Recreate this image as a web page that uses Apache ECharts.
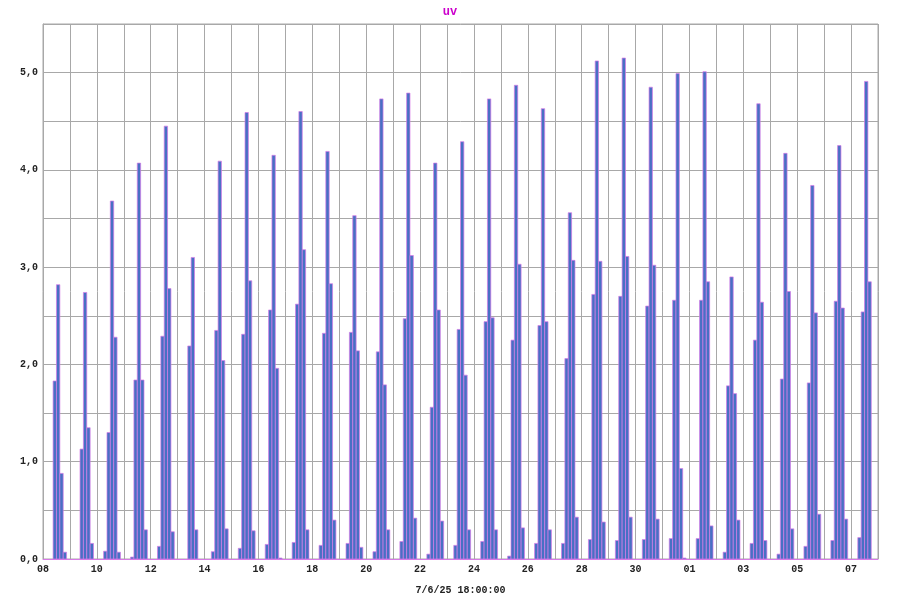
<!DOCTYPE html>
<html>
<head>
<meta charset="utf-8">
<script src="https://cdn.jsdelivr.net/npm/echarts@6/dist/echarts.min.js"></script>
<style>html,body{margin:0;padding:0;background:#fff}#c{width:900px;height:600px}</style>
</head>
<body>
<div id="c"></div>
<script>
// Day labels (Jul 8 .. Aug 7)
const dayLabels = ['08','09','10','11','12','13','14','15','16','17','18','19','20','21','22','23','24','25','26','27','28','29','30','31','01','02','03','04','05','06','07'];
// Start hour of each 3-hour bin
const slotHours = [6, 9, 12, 15, 18];
const binHours = 3;
// UV per bin, one array per bin start hour
const uv06 = [0,0,0.08,0.02,0.13,0,0.075,0.11,0.15,0.17,0.14,0.16,0.075,0.18,0.05,0.14,0.18,0.03,0.16,0.16,0.20,0.19,0.20,0.21,0.21,0.07,0.16,0.05,0.13,0.19,0.22];
const uv09 = [1.83,1.13,1.30,1.84,2.29,2.19,2.35,2.31,2.56,2.62,2.32,2.33,2.13,2.47,1.56,2.36,2.44,2.25,2.40,2.06,2.72,2.70,2.60,2.66,2.66,1.78,2.25,1.85,1.81,2.65,2.54];
const uv12 = [2.82,2.74,3.68,4.07,4.45,3.10,4.09,4.59,4.15,4.60,4.19,3.53,4.73,4.79,4.07,4.29,4.73,4.87,4.63,3.56,5.12,5.15,4.85,4.99,5.01,2.90,4.68,4.17,3.84,4.25,4.91];
const uv15 = [0.88,1.35,2.28,1.84,2.78,0.30,2.04,2.86,1.96,3.18,2.83,2.14,1.79,3.12,2.56,1.89,2.48,3.03,2.44,3.07,3.06,3.11,3.02,0.93,2.85,1.70,2.64,2.75,2.53,2.58,2.85];
const uv18 = [0.07,0.16,0.07,0.30,0.28,0,0.31,0.29,0.01,0.30,0.40,0.12,0.30,0.42,0.39,0.30,0.30,0.32,0.30,0.43,0.38,0.43,0.41,0.01,0.34,0.40,0.19,0.31,0.46,0.41,null];
const xAxisName = '7/6/25 18:00:00';
const title = 'uv';

const slots = [uv06, uv09, uv12, uv15, uv18];
const data = [];
for (let d = 0; d < dayLabels.length; d++) {
  slots.forEach((arr, i) => {
    const v = arr[d];
    if (v !== null && v !== undefined && v > 0) {
      const start = d * 24 + slotHours[i];
      data.push([start, start + binHours, v]);
    }
  });
}

const font = '"Liberation Mono", "DejaVu Sans Mono", monospace';
const chart = echarts.init(document.getElementById('c'), null, {renderer: 'canvas'});
chart.setOption({
  animation: false,
  backgroundColor: '#fff',
  title: {
    text: title, left: 'center', top: 1,
    textStyle: {color: '#cc00cc', fontFamily: font, fontWeight: 'bold', fontSize: 12}
  },
  grid: {left: 43, right: 22, top: 24, bottom: 33, show: true, borderColor: '#a8a8a8', borderWidth: 1},
  xAxis: {
    type: 'value', min: 0, max: dayLabels.length * 24, interval: 24,
    name: xAxisName, nameLocation: 'middle', nameGap: 26,
    nameTextStyle: {fontFamily: font, fontSize: 10, color: '#222', fontWeight: 'bold'},
    axisLine: {show: true, lineStyle: {color: '#d77ae6', width: 1}},
    axisTick: {show: false},
    axisLabel: {
      margin: 5, fontFamily: font, fontSize: 10, fontWeight: 'bold', color: '#222',
      showMaxLabel: false,
      formatter: v => { const d = Math.round(v / 24); return (d % 2 === 0 && d < dayLabels.length) ? dayLabels[d] : ''; }
    },
    splitLine: {show: true, lineStyle: {color: '#a8a8a8', width: 1}}
  },
  yAxis: {
    type: 'value', min: 0, max: 5.5, interval: 0.5,
    axisLine: {show: true, lineStyle: {color: '#a8a8a8'}},
    axisTick: {show: false},
    axisLabel: {
      margin: 5, fontFamily: font, fontSize: 10, fontWeight: 'bold', color: '#222',
      formatter: v => (Math.abs(v - Math.round(v)) < 1e-6) ? v.toFixed(1).replace('.', ',') : ''
    },
    splitLine: {show: true, lineStyle: {color: '#a8a8a8', width: 1}}
  },
  series: [{
    type: 'custom',
    data: data,
    encode: {x: [0, 1], y: 2},
    renderItem: function (params, api) {
      const p0 = api.coord([api.value(0), api.value(2)]);
      const p1 = api.coord([api.value(1), 0]);
      return {
        type: 'rect',
        shape: {x: p0[0], y: p0[1], width: p1[0] - p0[0], height: p1[1] - p0[1]},
        style: {fill: '#4870c4', stroke: '#d77ae6', lineWidth: 0.7}
      };
    }
  }]
});
</script>
</body>
</html>
